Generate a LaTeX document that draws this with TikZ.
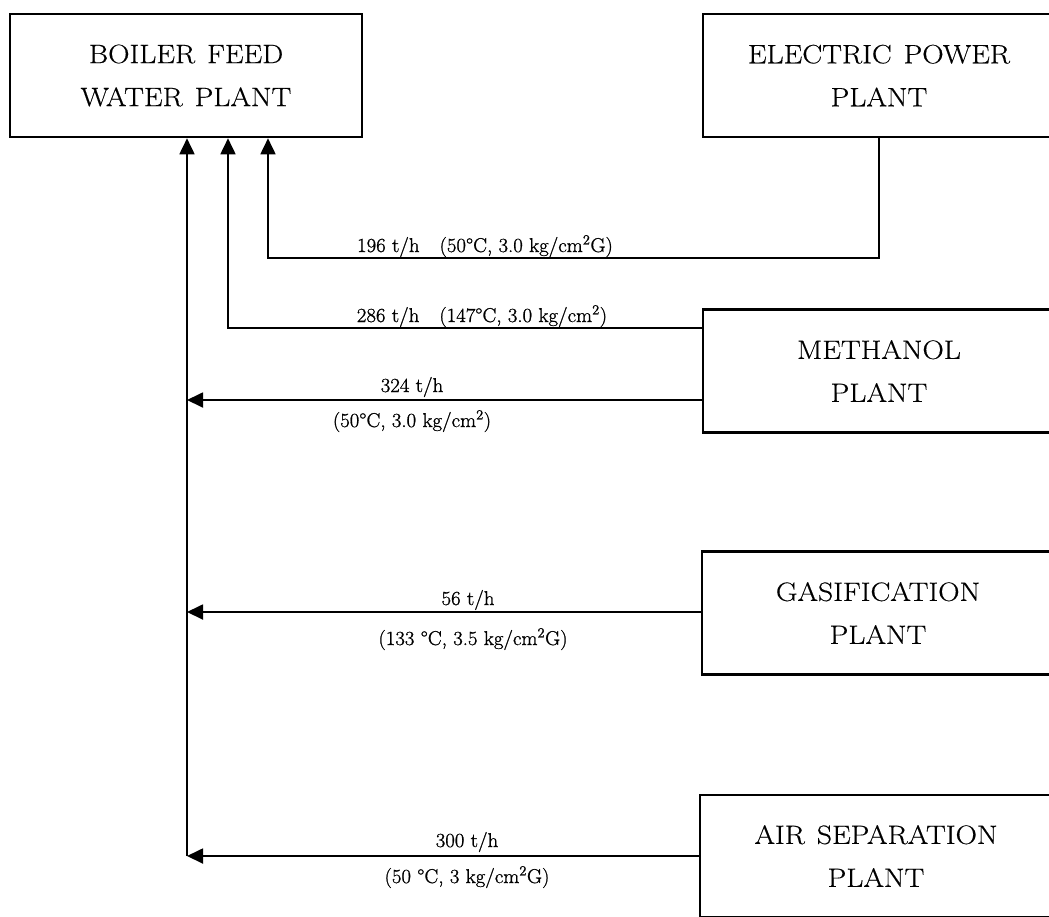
\documentclass[tikz,border=0pt]{standalone}
\usepackage{fontspec}
\setmainfont{Latin Modern Roman}
\newfontfamily\boxfont{Latin Modern Roman}[FakeStretch=1.12, FakeBold=0.4]
\newfontfamily\lblfont{Latin Modern Roman}[FakeStretch=1.04, FakeBold=1.0]
\usetikzlibrary{arrows.meta}
\newcommand\wsp{\hspace{0.45em}}
\tikzset{
  plant/.style={draw, line width=2.6pt, minimum width=352pt, minimum height=123pt, inner sep=0pt,
    align=center, font=\boxfont\fontsize{26.5}{43}\selectfont},
  flow/.style={line width=1.8pt},
  arr/.style={flow, -{Triangle[length=16pt,width=15pt]}},
  lbl/.style={inner sep=0pt, anchor=base, font=\lblfont\fontsize{20}{22}\selectfont}
}
\begin{document}
\begin{tikzpicture}[x=1pt,y=-1pt]
\useasboundingbox (0,0) rectangle (1049,916);
\clip (0,0) rectangle (1049,916);
\fill[white] (0,0) rectangle (1049,916);
% plants
\node[plant] (boiler) at (186,75.5) {BOILER\wsp FEED\\WATER\wsp PLANT};
\node[plant] (elec) at (879,75.5) {ELECTRIC\wsp POWER\\PLANT};
\node[plant] (meth) at (879,371) {METHANOL\\PLANT};
\node[plant] (gas) at (878,613) {GASIFICATION\\PLANT};
\node[plant, minimum height=122pt] (air) at (876,856) {AIR\wsp SEPARATION\\PLANT};
% bends
\coordinate (c196) at (268,258);
\coordinate (c286) at (228,328);
\coordinate (c324) at (187,400);
\coordinate (c56) at (187,612);
\coordinate (c300) at (187,856);
% connectors
\draw[arr] (elec.south) |- (c196) -- (c196 |- boiler.south);
\draw[arr] (c286 -| meth.west) -- (c286) -- (c286 |- boiler.south);
\draw[arr] (c324 -| meth.west) -- (c324);
\draw[arr] (c56 -| gas.west) -- (c56);
\draw[arr] (c300 -| air.west) -- (c300);
\draw[arr] (c300) -- (c300 |- boiler.south);
% labels
\node[lbl] (l196) at (485,252) {196 t/h\hspace{1em}(50\textdegree C, 3.0 kg/cm\textsuperscript{2}G)};
\node[lbl] (l286) at (482,322) {286 t/h\hspace{1em}(147\textdegree C, 3.0 kg/cm\textsuperscript{2})};
\node[lbl] (l324a) at (412,392) {324 t/h};
\node[lbl] (l324b) at (412,427) {(50\textdegree C, 3.0 kg/cm\textsuperscript{2})};
\node[lbl] (l56a) at (468,605) {56 t/h};
\node[lbl] (l56b) at (473,645) {(133 \textdegree C, 3.5 kg/cm\textsuperscript{2}G)};
\node[lbl] (l300a) at (467,847) {300 t/h};
\node[lbl] (l300b) at (467,883) {(50 \textdegree C, 3 kg/cm\textsuperscript{2}G)};
\end{tikzpicture}
\end{document}
